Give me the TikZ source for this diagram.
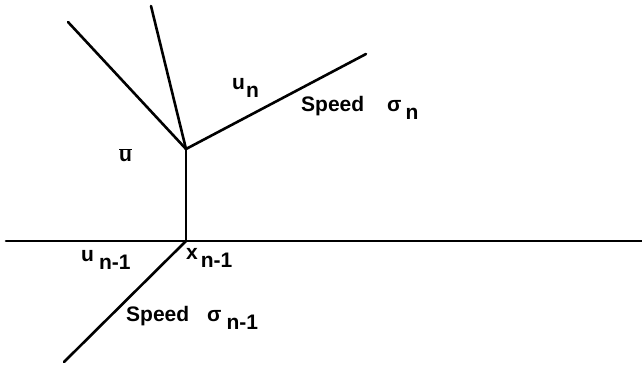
\documentclass[tikz,border=0pt]{standalone}
\usepackage{fontspec}
\setmainfont{Liberation Sans}
\newcommand{\lowsub}[1]{\raisebox{-0.4em}{#1}}
\newcommand{\ubarred}{$\overline{\mbox{u}}$}
\begin{document}
\begin{tikzpicture}[x=1pt,y=-1pt,
  wave/.style={line width=2.6pt,line cap=round,line join=round},
  lbl/.style={inner sep=0pt,anchor=west,font=\fontsize{21}{24}\selectfont\bfseries}]
\useasboundingbox (0,0) rectangle (642,366);
\coordinate (L) at (6,241);
\coordinate (R) at (642,241);
\coordinate (X) at (186,241);
\coordinate (J) at (186,149);
\coordinate (UL) at (68,22);
\coordinate (T) at (151,6);
\coordinate (UR) at (366,54);
\coordinate (BL) at (64,362);
\draw[wave] (L) -- (R);
\draw[wave] (X) -- (J);
\draw[wave] (J) -- (UL);
\draw[wave] (J) -- (T);
\draw[wave] (J) -- (UR);
\draw[wave] (X) -- (BL);
\node[lbl] (un) at (232,88) {u\hspace{1pt}\lowsub{n}};
\node[lbl] (spn) at (301,108) {Speed\hspace{23pt}σ\hspace{4pt}\lowsub{n}};
\node[lbl] (ubar) at (119,155) {\ubarred};
\node[lbl] (unm) at (81,260) {u\hspace{5pt}\lowsub{n-1}};
\node[lbl] (xnm) at (186,258) {x\hspace{3pt}\lowsub{n-1}};
\node[lbl] (spnm) at (126,318) {Speed\hspace{18pt}σ\hspace{5pt}\lowsub{n-1}};
\end{tikzpicture}
\end{document}
